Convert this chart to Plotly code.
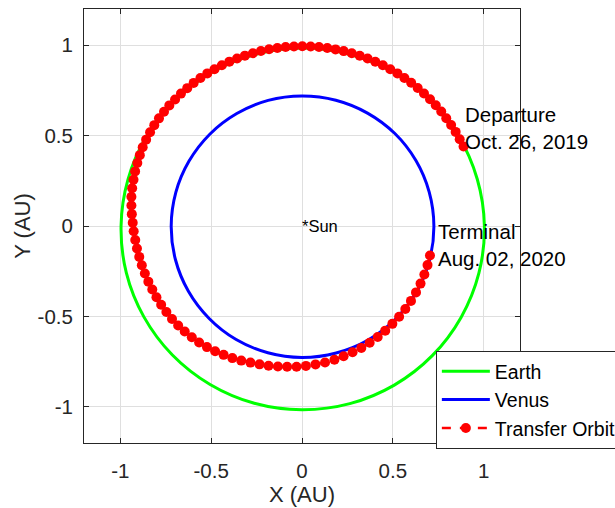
import numpy as np
import plotly.graph_objects as go

# ---- data (heliocentric, AU) ----
orbit_angle_deg = [0, 15, 30, 45, 60, 75, 90, 105, 120, 135, 150, 165, 180,
                   195, 210, 225, 240, 255, 270, 285, 300, 315, 330, 345, 360]
earth_r = [1.004, 0.999, 0.995, 0.991, 0.988, 0.985, 0.984, 0.983, 0.984, 0.986,
           0.989, 0.992, 0.996, 1.001, 1.005, 1.009, 1.012, 1.015, 1.016, 1.017,
           1.016, 1.014, 1.011, 1.008, 1.004]
venus_r = [0.726, 0.725, 0.724, 0.723, 0.721, 0.720, 0.719, 0.719, 0.718, 0.718,
           0.718, 0.719, 0.720, 0.721, 0.722, 0.723, 0.725, 0.726, 0.727, 0.727,
           0.728, 0.728, 0.728, 0.727, 0.726]

transfer_angle_deg = [
    26.3, 28.95, 31.6, 34.25, 36.9, 39.55, 42.2, 44.85, 47.5, 50.15, 52.8, 55.45,
    58.1, 60.75, 63.4, 66.05, 68.7, 71.35, 74.0, 76.65, 79.3, 81.95, 84.6, 87.25,
    89.9, 92.55, 95.2, 97.85, 100.5, 103.15, 105.8, 108.45, 111.1, 113.75, 116.4,
    119.05, 121.7, 124.35, 127.0, 129.65, 132.3, 134.95, 137.6, 140.25, 142.9,
    145.55, 148.2, 150.9, 153.6, 156.3, 159.0, 161.8, 164.6, 167.4, 170.2, 173.1,
    176.0, 178.9, 181.8, 184.8, 187.8, 190.8, 193.8, 196.9, 200.0, 203.1, 206.2,
    209.3, 212.5, 215.7, 218.9, 222.1, 225.4, 228.7, 232.0, 235.4, 238.8, 242.3,
    245.8, 249.4, 253.0, 256.6, 260.3, 264.0, 267.8, 271.6, 275.55, 279.54,
    283.57, 287.63, 291.72, 295.84, 299.99, 304.17, 308.37, 312.59, 316.83,
    321.09, 325.37, 329.67, 333.98, 338.3, 342.63, 346.97]
transfer_r = [
    0.992, 0.992, 0.993, 0.993, 0.993, 0.994, 0.994, 0.994, 0.994, 0.994, 0.994, 0.994,
    0.994, 0.994, 0.994, 0.994, 0.994, 0.994, 0.994, 0.994, 0.994, 0.994, 0.994, 0.994,
    0.994, 0.994, 0.994, 0.994, 0.994, 0.994, 0.993, 0.993, 0.993, 0.993, 0.992,
    0.992, 0.992, 0.991, 0.991, 0.990, 0.990, 0.989, 0.989, 0.988, 0.987,
    0.986, 0.984, 0.982, 0.979, 0.975, 0.971, 0.967, 0.962, 0.958, 0.953, 0.946,
    0.939, 0.932, 0.927, 0.921, 0.917, 0.912, 0.908, 0.904, 0.900, 0.896, 0.893,
    0.889, 0.885, 0.881, 0.876, 0.870, 0.864, 0.858, 0.850, 0.842, 0.833, 0.825,
    0.816, 0.807, 0.800, 0.794, 0.788, 0.783, 0.779, 0.774, 0.769, 0.765,
    0.761, 0.756, 0.752, 0.749, 0.745, 0.742, 0.738, 0.735, 0.733,
    0.731, 0.729, 0.727, 0.726, 0.725, 0.724, 0.723]

tick_vals = [-1, -0.5, 0, 0.5, 1]
tick_text = ["-1", "-0.5", "0", "0.5", "1"]
series_names = ["Earth", "Venus", "Transfer Orbit"]
departure_label = "Departure<br>Oct. 26, 2019"
terminal_label = "Terminal<br>Aug. 02, 2020"
sun_label = "*Sun"


def to_xy(angles, radii):
    a = np.deg2rad(np.asarray(angles, dtype=float))
    r = np.asarray(radii, dtype=float)
    return r * np.cos(a), r * np.sin(a)


ex, ey = to_xy(orbit_angle_deg, earth_r)
vx, vy = to_xy(orbit_angle_deg, venus_r)
tx, ty = to_xy(transfer_angle_deg, transfer_r)

FONT = "Arial, 'Liberation Sans', Helvetica, sans-serif"
AX = "#262626"

fig = go.Figure()
fig.add_trace(go.Scatter(x=ex, y=ey, mode="lines", name=series_names[0],
                         line=dict(color="#00ff00", width=3, shape="spline")))
fig.add_trace(go.Scatter(x=vx, y=vy, mode="lines", name=series_names[1],
                         line=dict(color="#0000ff", width=3, shape="spline")))
fig.add_trace(go.Scatter(x=tx, y=ty, mode="lines+markers", name=series_names[2],
                         line=dict(color="#ff0000", width=2.5, dash="dash"),
                         marker=dict(color="#ff0000", size=10, line=dict(width=0))))

fig.add_annotation(x=tx[0], y=ty[0], text=departure_label, showarrow=False,
                   xanchor="left", yanchor="middle", align="left",
                   xshift=-1, yshift=19, font=dict(size=20.5, color="black", family=FONT))
fig.add_annotation(x=tx[-1], y=ty[-1], text=terminal_label, showarrow=False,
                   xanchor="left", yanchor="middle", align="left",
                   xshift=6, yshift=10, font=dict(size=20.5, color="black", family=FONT))
fig.add_annotation(x=0, y=0, text=sun_label, showarrow=False,
                   xanchor="left", yanchor="middle", align="left",
                   xshift=-2, yshift=0, font=dict(size=16.5, color="black", family=FONT))

axis_common = dict(
    range=[-1.2, 1.2], tickmode="array", tickvals=tick_vals, ticktext=tick_text,
    showgrid=True, gridcolor="#dfdfdf", gridwidth=1, zeroline=False,
    showline=True, linecolor=AX, linewidth=1, mirror="ticks",
    ticks="inside", ticklen=5, tickcolor=AX, tickwidth=1,
    tickfont=dict(size=20.5, color=AX, family=FONT),
)

fig.update_xaxes(**axis_common, ticklabelstandoff=9,
                 title=dict(text="X (AU)", font=dict(size=22, color=AX, family=FONT), standoff=6))
fig.update_yaxes(**axis_common, ticklabelstandoff=6,
                 title=dict(text="Y (AU)", font=dict(size=22, color=AX, family=FONT), standoff=0))

fig.update_layout(
    width=615, height=508,
    margin=dict(l=84, r=95, t=9, b=65, autoexpand=False),
    paper_bgcolor="white", plot_bgcolor="white",
    font=dict(family=FONT, color=AX),
    showlegend=True,
    legend=dict(x=0.807, y=-0.014, xanchor="left", yanchor="bottom",
                bgcolor="white", bordercolor=AX, borderwidth=1,
                font=dict(size=19.5, color="black", family=FONT),
                itemwidth=48, tracegroupgap=0),
)

fig.write_html("out.html")
